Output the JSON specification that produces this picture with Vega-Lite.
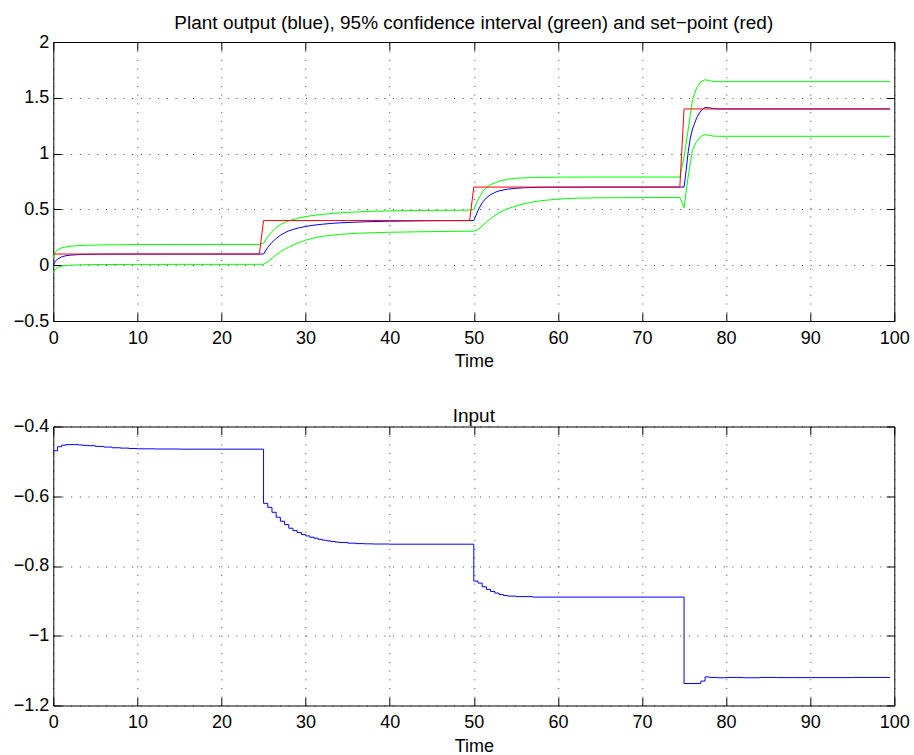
{
  "$schema": "https://vega.github.io/schema/vega-lite/v6.json",
  "padding": {"left": 12.3, "top": 13, "right": 0, "bottom": 0},
  "background": "white",
  "config": {
    "view": {"stroke": null},
    "font": "Liberation Sans",
    "axis": {
      "labelFont": "Liberation Sans", "labelFontSize": 18, "labelColor": "#000", "labelFlush": false,
      "titleFont": "Liberation Sans", "titleFontSize": 18, "titleFontWeight": "normal", "titleColor": "#000",
      "domainColor": "#000", "domainWidth": 1, "tickColor": "#000", "tickWidth": 1,
      "gridColor": "#000", "gridOpacity": 0.75, "gridWidth": 1, "gridDash": [1, 7.7]
    },
    "title": {"font": "Liberation Sans", "fontSize": 19, "fontWeight": "normal", "color": "#000", "anchor": "middle", "frame": "group", "baseline": "alphabetic"}
  },
  "datasets": {
    "band": [
      {"t":0,"s":"hi","v":0.067},{"t":0.25,"s":"hi","v":0.115},{"t":0.5,"s":"hi","v":0.138},{"t":1,"s":"hi","v":0.155},{"t":1.5,"s":"hi","v":0.164},{"t":2,"s":"hi","v":0.17},{"t":3,"s":"hi","v":0.176},{"t":4,"s":"hi","v":0.179},{"t":6,"s":"hi","v":0.182},{"t":10,"s":"hi","v":0.185},{"t":24.5,"s":"hi","v":0.186},{"t":25,"s":"hi","v":0.2},{"t":25.5,"s":"hi","v":0.255},{"t":26,"s":"hi","v":0.303},{"t":26.5,"s":"hi","v":0.338},{"t":27,"s":"hi","v":0.364},{"t":27.5,"s":"hi","v":0.383},{"t":28,"s":"hi","v":0.397},{"t":29,"s":"hi","v":0.419},{"t":30,"s":"hi","v":0.435},{"t":31,"s":"hi","v":0.447},{"t":32,"s":"hi","v":0.456},{"t":34,"s":"hi","v":0.469},{"t":36,"s":"hi","v":0.477},{"t":38,"s":"hi","v":0.483},{"t":40,"s":"hi","v":0.487},{"t":43,"s":"hi","v":0.49},{"t":46,"s":"hi","v":0.492},{"t":49.5,"s":"hi","v":0.493},{"t":50,"s":"hi","v":0.5},{"t":50.5,"s":"hi","v":0.585},{"t":51,"s":"hi","v":0.655},{"t":51.5,"s":"hi","v":0.697},{"t":52,"s":"hi","v":0.722},{"t":53,"s":"hi","v":0.752},{"t":54,"s":"hi","v":0.77},{"t":55,"s":"hi","v":0.779},{"t":57,"s":"hi","v":0.786},{"t":60,"s":"hi","v":0.789},{"t":65,"s":"hi","v":0.79},{"t":74.5,"s":"hi","v":0.79},{"t":75,"s":"hi","v":0.97},{"t":75.5,"s":"hi","v":1.22},{"t":76,"s":"hi","v":1.48},{"t":76.5,"s":"hi","v":1.59},{"t":77,"s":"hi","v":1.645},{"t":77.5,"s":"hi","v":1.662},{"t":78,"s":"hi","v":1.654},{"t":78.5,"s":"hi","v":1.647},{"t":79,"s":"hi","v":1.645},{"t":99.5,"s":"hi","v":1.645},
      {"t":0,"s":"lo","v":-0.067},{"t":0.25,"s":"lo","v":-0.035},{"t":0.5,"s":"lo","v":-0.02},{"t":1,"s":"lo","v":-0.008},{"t":1.5,"s":"lo","v":-0.003},{"t":2,"s":"lo","v":0.0},{"t":3,"s":"lo","v":0.003},{"t":4,"s":"lo","v":0.005},{"t":6,"s":"lo","v":0.006},{"t":10,"s":"lo","v":0.007},{"t":25,"s":"lo","v":0.008},{"t":25.5,"s":"lo","v":0.03},{"t":26,"s":"lo","v":0.063},{"t":26.5,"s":"lo","v":0.093},{"t":27,"s":"lo","v":0.12},{"t":27.5,"s":"lo","v":0.142},{"t":28,"s":"lo","v":0.162},{"t":29,"s":"lo","v":0.196},{"t":30,"s":"lo","v":0.224},{"t":31,"s":"lo","v":0.244},{"t":32,"s":"lo","v":0.259},{"t":34,"s":"lo","v":0.276},{"t":36,"s":"lo","v":0.286},{"t":38,"s":"lo","v":0.291},{"t":40,"s":"lo","v":0.295},{"t":43,"s":"lo","v":0.299},{"t":46,"s":"lo","v":0.302},{"t":50,"s":"lo","v":0.305},{"t":50.5,"s":"lo","v":0.32},{"t":51,"s":"lo","v":0.352},{"t":51.5,"s":"lo","v":0.388},{"t":52,"s":"lo","v":0.418},{"t":52.5,"s":"lo","v":0.446},{"t":53,"s":"lo","v":0.47},{"t":54,"s":"lo","v":0.505},{"t":55,"s":"lo","v":0.53},{"t":56,"s":"lo","v":0.551},{"t":57,"s":"lo","v":0.566},{"t":58,"s":"lo","v":0.578},{"t":60,"s":"lo","v":0.592},{"t":62,"s":"lo","v":0.6},{"t":65,"s":"lo","v":0.604},{"t":70,"s":"lo","v":0.606},{"t":74.5,"s":"lo","v":0.607},{"t":75,"s":"lo","v":0.515},{"t":75.5,"s":"lo","v":0.8},{"t":76,"s":"lo","v":1.03},{"t":76.5,"s":"lo","v":1.11},{"t":77,"s":"lo","v":1.155},{"t":77.5,"s":"lo","v":1.17},{"t":78,"s":"lo","v":1.163},{"t":78.5,"s":"lo","v":1.157},{"t":79,"s":"lo","v":1.155},{"t":99.5,"s":"lo","v":1.155}
    ],
    "out": [
      {"t":0,"v":0},{"t":0.25,"v":0.035},{"t":0.5,"v":0.055},{"t":1,"v":0.075},{"t":1.5,"v":0.085},{"t":2,"v":0.09},{"t":3,"v":0.095},{"t":4,"v":0.097},{"t":6,"v":0.099},{"t":10,"v":0.1},{"t":25,"v":0.1},{"t":25.5,"v":0.16},{"t":26,"v":0.205},{"t":26.5,"v":0.24},{"t":27,"v":0.268},{"t":27.5,"v":0.29},{"t":28,"v":0.308},{"t":29,"v":0.331},{"t":30,"v":0.347},{"t":31,"v":0.359},{"t":32,"v":0.367},{"t":33,"v":0.374},{"t":34,"v":0.379},{"t":36,"v":0.386},{"t":38,"v":0.391},{"t":40,"v":0.394},{"t":43,"v":0.397},{"t":46,"v":0.399},{"t":50,"v":0.4},{"t":50.5,"v":0.49},{"t":51,"v":0.56},{"t":51.5,"v":0.604},{"t":52,"v":0.632},{"t":52.5,"v":0.652},{"t":53,"v":0.666},{"t":54,"v":0.681},{"t":55,"v":0.689},{"t":56,"v":0.694},{"t":58,"v":0.698},{"t":60,"v":0.699},{"t":65,"v":0.7},{"t":75,"v":0.7},{"t":75.25,"v":0.85},{"t":75.5,"v":1.02},{"t":75.75,"v":1.14},{"t":76,"v":1.22},{"t":76.5,"v":1.32},{"t":77,"v":1.385},{"t":77.5,"v":1.413},{"t":78,"v":1.41},{"t":78.5,"v":1.404},{"t":79,"v":1.401},{"t":80,"v":1.4},{"t":99.5,"v":1.4}
    ],
    "sp": [
      {"t":0,"v":0.1},{"t":24.5,"v":0.1},{"t":25,"v":0.4},{"t":49.5,"v":0.4},{"t":50,"v":0.7},{"t":74.5,"v":0.7},{"t":75,"v":1.4},{"t":99.5,"v":1.4}
    ],
    "inp": [
      {"t":0,"u":-0.4695},{"t":0.5,"u":-0.458},{"t":1,"u":-0.4535},{"t":1.5,"u":-0.452},{"t":2,"u":-0.4515},{"t":2.5,"u":-0.452},{"t":3,"u":-0.453},{"t":3.5,"u":-0.454},{"t":4,"u":-0.455},{"t":5,"u":-0.457},{"t":6,"u":-0.459},{"t":7,"u":-0.461},{"t":8,"u":-0.462},{"t":9,"u":-0.463},{"t":10,"u":-0.464},{"t":12,"u":-0.4645},{"t":15,"u":-0.465},{"t":25,"u":-0.6203},{"t":25.5,"u":-0.6317},{"t":26,"u":-0.646},{"t":26.5,"u":-0.6602},{"t":27,"u":-0.6717},{"t":27.5,"u":-0.6813},{"t":28,"u":-0.6917},{"t":28.5,"u":-0.6984},{"t":29,"u":-0.7041},{"t":29.5,"u":-0.7099},{"t":30,"u":-0.7137},{"t":30.5,"u":-0.7175},{"t":31,"u":-0.7205},{"t":31.5,"u":-0.7235},{"t":32,"u":-0.726},{"t":32.5,"u":-0.728},{"t":33,"u":-0.7298},{"t":33.5,"u":-0.7313},{"t":34,"u":-0.7326},{"t":35,"u":-0.7345},{"t":36,"u":-0.7358},{"t":37,"u":-0.7365},{"t":38,"u":-0.737},{"t":40,"u":-0.7375},{"t":50,"u":-0.8434},{"t":50.5,"u":-0.8491},{"t":51,"u":-0.8596},{"t":51.5,"u":-0.8672},{"t":52,"u":-0.873},{"t":52.5,"u":-0.8777},{"t":53,"u":-0.8816},{"t":53.5,"u":-0.8844},{"t":54,"u":-0.8863},{"t":55,"u":-0.8878},{"t":57,"u":-0.8892},{"t":75,"u":-1.137},{"t":77,"u":-1.13},{"t":77.5,"u":-1.118},{"t":78,"u":-1.1195},{"t":79,"u":-1.1205},{"t":80,"u":-1.1195},{"t":82,"u":-1.1205},{"t":84,"u":-1.1195},{"t":86,"u":-1.12},{"t":88,"u":-1.12},{"t":95,"u":-1.1195},{"t":99.5,"u":-1.1195}
    ]
  },
  "vconcat": [
    {
      "width": 841, "height": 279,
      "title": {"text": "Plant output (blue), 95% confidence interval (green) and set−point (red)", "offset": 0.1},
      "resolve": {"axis": {"x": "independent", "y": "independent"}},
      "layer": [
        {
          "data": {"name": "band"},
          "mark": {"type": "line", "color": "#00ff00", "strokeWidth": 1},
          "encoding": {
            "x": {"field": "t", "type": "quantitative", "scale": {"domain": [0, 100], "nice": false, "zero": false},
                  "axis": {"orient": "bottom", "values": [0,10,20,30,40,50,60,70,80,90,100], "format": "d", "title": "Time", "titleY": 45.6, "titleBaseline": "alphabetic", "tickSize": -8, "labelPadding": 16, "grid": true}},
            "y": {"field": "v", "type": "quantitative", "scale": {"domain": [-0.5, 2], "nice": false, "zero": false},
                  "axis": {"orient": "left", "values": [-0.5,0,0.5,1,1.5,2], "format": "~g", "title": null, "tickSize": -8, "labelPadding": 12.6, "grid": true}},
            "detail": {"field": "s", "type": "nominal"}
          }
        },
        {
          "data": {"name": "out"},
          "mark": {"type": "line", "color": "#0000ff", "strokeWidth": 1},
          "encoding": {
            "x": {"field": "t", "type": "quantitative", "axis": {"orient": "top", "values": [0,10,20,30,40,50,60,70,80,90,100], "labels": false, "title": null, "tickSize": -8, "grid": false}},
            "y": {"field": "v", "type": "quantitative", "axis": {"orient": "right", "values": [-0.5,0,0.5,1,1.5,2], "labels": false, "title": null, "tickSize": -8, "grid": false}}
          }
        },
        {
          "data": {"name": "sp"},
          "mark": {"type": "line", "color": "#ff0000", "strokeWidth": 1},
          "encoding": {
            "x": {"field": "t", "type": "quantitative", "axis": null},
            "y": {"field": "v", "type": "quantitative", "axis": null}
          }
        }
      ]
    },
    {
      "width": 841, "height": 279,
      "title": {"text": "Input", "offset": -8.3},
      "resolve": {"axis": {"x": "independent", "y": "independent"}},
      "layer": [
        {
          "data": {"name": "inp"},
          "mark": {"type": "line", "color": "#0000ff", "strokeWidth": 1, "interpolate": "step-after"},
          "encoding": {
            "x": {"field": "t", "type": "quantitative", "scale": {"domain": [0, 100], "nice": false, "zero": false},
                  "axis": {"orient": "bottom", "values": [0,10,20,30,40,50,60,70,80,90,100], "format": "d", "title": "Time", "titleY": 46, "titleBaseline": "alphabetic", "tickSize": -8, "labelPadding": 16, "grid": true}},
            "y": {"field": "u", "type": "quantitative", "scale": {"domain": [-1.2, -0.4], "nice": false, "zero": false},
                  "axis": {"orient": "left", "values": [-1.2,-1,-0.8,-0.6,-0.4], "format": "~g", "title": null, "tickSize": -8, "labelPadding": 12.6, "grid": true}}
          }
        },
        {
          "data": {"name": "inp"},
          "mark": {"type": "line", "color": "#0000ff", "strokeWidth": 1, "strokeOpacity": 0, "interpolate": "step-after"},
          "encoding": {
            "x": {"field": "t", "type": "quantitative", "axis": {"orient": "top", "values": [0,10,20,30,40,50,60,70,80,90,100], "labels": false, "title": null, "tickSize": -8, "grid": false}},
            "y": {"field": "u", "type": "quantitative", "axis": {"orient": "right", "values": [-1.2,-1,-0.8,-0.6,-0.4], "labels": false, "title": null, "tickSize": -8, "grid": false}}
          }
        }
      ]
    }
  ],
  "spacing": 105.5,
  "bounds": "flush"
}
